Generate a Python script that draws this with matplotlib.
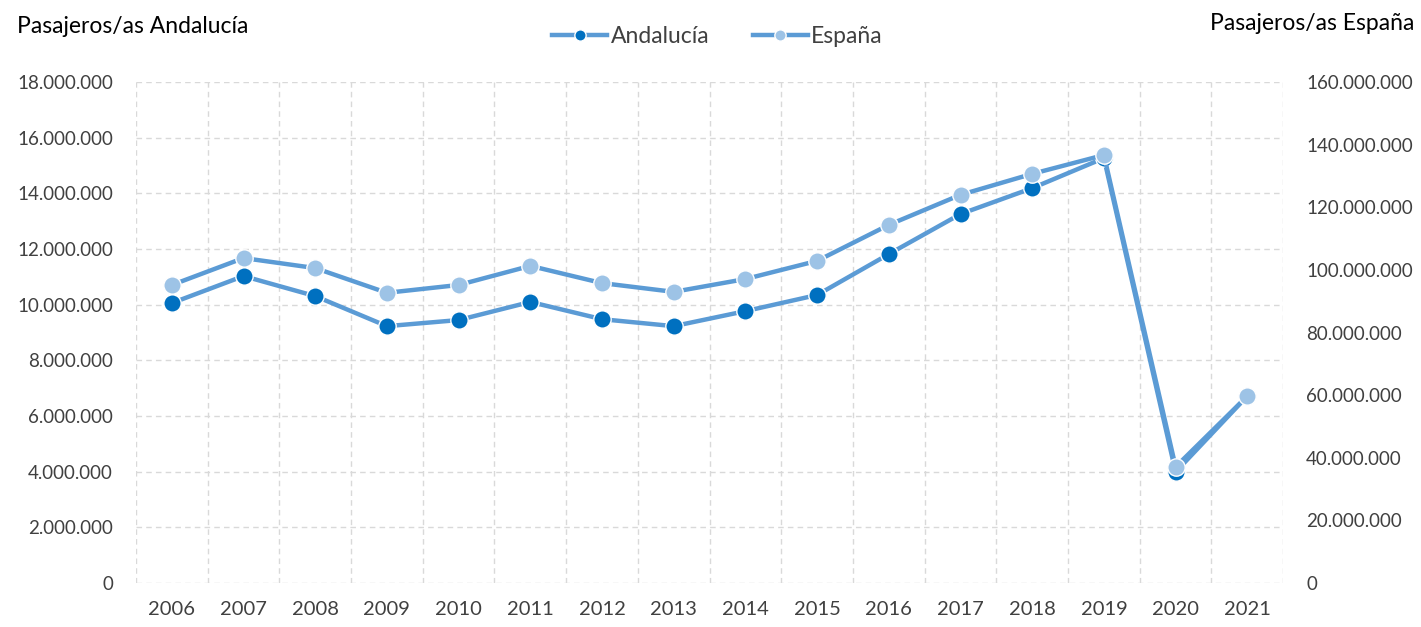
import matplotlib.pyplot as plt
import numpy as np
from matplotlib.ticker import FuncFormatter, MultipleLocator

plt.rcParams['font.family'] = ['Lato', 'DejaVu Sans']

anios = ['2006', '2007', '2008', '2009', '2010', '2011', '2012', '2013',
         '2014', '2015', '2016', '2017', '2018', '2019', '2020', '2021']
andalucia = [10060000, 11030000, 10310000, 9230000, 9450000, 10100000, 9480000, 9230000,
             9770000, 10350000, 11820000, 13260000, 14190000, 15270000, 3990000, 6720000]
espana = [95200000, 103800000, 100600000, 92700000, 95200000, 101300000, 95800000, 93000000,
          97100000, 102900000, 114400000, 124000000, 130700000, 136700000, 37100000, 59700000]

color_linea = '#5B9BD5'
color_and = '#0070C0'
color_esp = '#9DC3E6'
color_grid = '#D9D9D9'
color_txt = '#404040'


def miles(v, pos):
    return '{:,.0f}'.format(v).replace(',', '.')


fig = plt.figure(figsize=(14.21, 6.27), dpi=100)
ax = fig.add_axes([0.0957, 0.0702, 0.8073, 0.7988])
ax2 = ax.twinx()

x = np.arange(len(anios))

l1, = ax.plot(x, andalucia, color=color_linea, lw=3.2, marker='o', markersize=12.5,
              markerfacecolor=color_and, markeredgecolor='white', markeredgewidth=1,
              label='Andalucía', zorder=3)
l2, = ax2.plot(x, espana, color=color_linea, lw=3.2, marker='o', markersize=12.5,
               markerfacecolor=color_esp, markeredgecolor='white', markeredgewidth=1,
               label='España', zorder=3)

ax.set_xlim(-0.5, len(anios) - 0.5)
ax.set_ylim(0, 18000000)
ax2.set_ylim(0, 160000000)
ax.yaxis.set_major_locator(MultipleLocator(2000000))
ax2.yaxis.set_major_locator(MultipleLocator(20000000))
ax.yaxis.set_major_formatter(FuncFormatter(miles))
ax2.yaxis.set_major_formatter(FuncFormatter(miles))

ax.set_xticks(x)
ax.set_xticklabels(anios)
ax.set_xticks(np.arange(-0.5, len(anios)), minor=True)

ax.grid(axis='y', which='major', color=color_grid, ls=(0, (4, 3)), lw=1)
ax.grid(axis='x', which='minor', color=color_grid, ls=(0, (4, 3)), lw=1)
ax.grid(axis='x', which='major', visible=False)

for a in (ax, ax2):
    for s in a.spines.values():
        s.set_visible(False)
    a.tick_params(length=0, which='both', labelsize=13.5, labelcolor=color_txt)
ax.tick_params(axis='y', pad=16.5)
ax2.tick_params(axis='y', pad=16.5)
ax.tick_params(axis='x', pad=13, labelsize=14.5)

fig.text(0.012, 0.957, 'Pasajeros/as Andalucía', fontsize=16.5, color='black', va='center')
fig.text(0.995, 0.962, 'Pasajeros/as España', fontsize=16.5, color='black', va='center', ha='right')

fig.legend(handles=[l1, l2], loc='center', bbox_to_anchor=(0.505, 0.942), ncol=2,
           frameon=False, fontsize=16.5, handlelength=2.4, columnspacing=1.9,
           labelcolor=color_txt, handletextpad=0.15, markerscale=0.65)

fig.savefig('out.png', dpi=100)
